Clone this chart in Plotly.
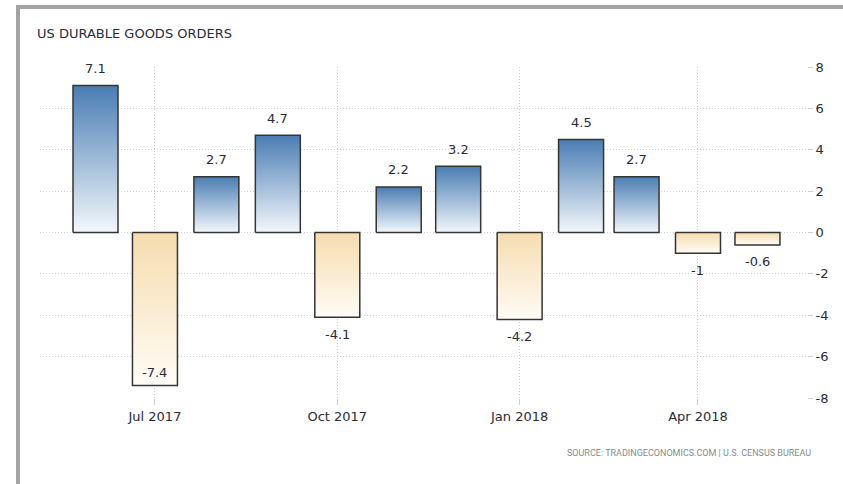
import plotly.graph_objects as go
import pandas as pd

# ---- data ----
months = ["2017-06-01", "2017-07-01", "2017-08-01", "2017-09-01", "2017-10-01", "2017-11-01",
          "2017-12-01", "2018-01-01", "2018-02-01", "2018-03-01", "2018-04-01", "2018-05-01"]
values = [7.1, -7.4, 2.7, 4.7, -4.1, 2.2, 3.2, -4.2, 4.5, 2.7, -1, -0.6]
value_labels = ["7.1", "-7.4", "2.7", "4.7", "-4.1", "2.2", "3.2", "-4.2", "4.5", "2.7", "-1", "-0.6"]
y_ticks = [-8, -6, -4, -2, 0, 2, 4, 6, 8]
y_tick_labels = ["-8", "-6", "-4", "-2", "0", "2", "4", "6", "8"]
title_text = "US DURABLE GOODS ORDERS"
source_text = "SOURCE: TRADINGECONOMICS.COM | U.S. CENSUS BUREAU"

FONT = "'DejaVu Sans', sans-serif"
SRC_FONT = "Roboto, 'DejaVu Sans', sans-serif"
TXT = "#2b2b3b"
GRID = "#cfcfcf"
FRAME = "#a3a3a3"
BAR_DAYS = 22.7
W, H = 843, 484
L, R, T, B = 40, 36, 67, 86
Y_MIN, Y_MAX = -8, 8
PW, PH = W - L - R, H - T - B
PX_PER_UNIT = PH / (Y_MAX - Y_MIN)


def px_x(px):
    return (px - L) / PW


def px_y(py):
    return (H - B - py) / PH


fig = go.Figure()

# base bar trace (carries the data)
fig.add_trace(go.Bar(
    x=months, y=values,
    width=BAR_DAYS * 86400000,
    marker=dict(color=["#8fb0d3" if v >= 0 else "#f8e9cf" for v in values],
                line=dict(width=0)),
    showlegend=False, hoverinfo="x+y",
))

# gradient fills + outline over each bar, derived from the same data
half = pd.Timedelta(days=BAR_DAYS / 2)
for m, v in zip(months, values):
    d = pd.Timestamp(m)
    xs = [d - half, d - half, d + half, d + half, d - half]
    ys = [0, v, v, 0, 0]
    if v >= 0:
        cs = [[0, "#f3f7fb"], [1, "#4a7db3"]]
    else:
        cs = [[0, "#fffcf6"], [1, "#f5dcae"]]
    fig.add_trace(go.Scatter(
        x=xs, y=ys, mode="lines", fill="toself",
        fillgradient=dict(type="vertical", colorscale=cs),
        line=dict(color="#353535", width=1.5),
        showlegend=False, hoverinfo="skip",
    ))

# value labels
annotations = []
for m, v, t in zip(months, values, value_labels):
    if v >= 0:
        ys = 17
    elif (v - Y_MIN) * PX_PER_UNIT < 20:
        ys = 13  # no room below: place inside the bar
    else:
        ys = -17
    annotations.append(dict(
        x=m, y=v, text=t, showarrow=False, yshift=ys,
        xanchor="center", yanchor="middle",
        font=dict(family=FONT, size=13, color=TXT),
    ))

annotations.append(dict(
    text=source_text, xref="paper", yref="paper",
    x=px_x(813), y=px_y(453),
    xanchor="right", yanchor="middle", showarrow=False,
    font=dict(family=SRC_FONT, size=9, color="#8a8a8a"),
))

fig.update_layout(
    width=W, height=H,
    margin=dict(l=L, r=R, t=T, b=B),
    paper_bgcolor="white", plot_bgcolor="white",
    font=dict(family=FONT, color=TXT),
    bargap=0,
    title=dict(text=title_text, x=37 / W, xanchor="left", y=1 - 33 / H, yanchor="middle",
               font=dict(family=FONT, size=13, color=TXT)),
    xaxis=dict(
        type="date", range=["2017-05-04", "2018-05-26"],
        tick0="2017-01-01", dtick="M3", tickformat="%b %Y",
        showgrid=True, gridcolor=GRID, griddash="1px,2px", gridwidth=1,
        ticks="outside", ticklen=6, tickcolor=GRID,
        tickfont=dict(family=FONT, size=13, color=TXT),
        showline=False, zeroline=False,
    ),
    yaxis=dict(
        side="right", range=[Y_MIN, Y_MAX], tickvals=y_ticks, ticktext=y_tick_labels,
        showgrid=True, gridcolor=GRID, griddash="1px,2px", gridwidth=1,
        ticks="outside", ticklen=5, tickcolor=GRID,
        tickfont=dict(family=FONT, size=13, color=TXT),
        showline=False, zeroline=False,
    ),
    annotations=annotations,
    shapes=[
        dict(type="rect", xref="paper", yref="paper",
             x0=px_x(831), x1=px_x(W + 20), y0=px_y(10), y1=px_y(H + 20),
             fillcolor="white", line=dict(width=0), layer="above"),
        dict(type="line", xref="paper", yref="paper",
             x0=px_x(16), x1=px_x(W + 20), y0=px_y(7), y1=px_y(7),
             line=dict(color=FRAME, width=4), layer="below"),
        dict(type="line", xref="paper", yref="paper",
             x0=px_x(18), x1=px_x(18), y0=px_y(5), y1=px_y(H + 20),
             line=dict(color=FRAME, width=4), layer="below"),
    ],
)

fig.write_html(
    "out.html",
    config={"displayModeBar": False},
    post_script=(
        "document.documentElement.style.margin='0';"
        "document.documentElement.style.overflow='hidden';"
        "document.body.style.margin='0';document.body.style.padding='0';"
        "document.body.style.overflow='hidden';"
    ),
)
